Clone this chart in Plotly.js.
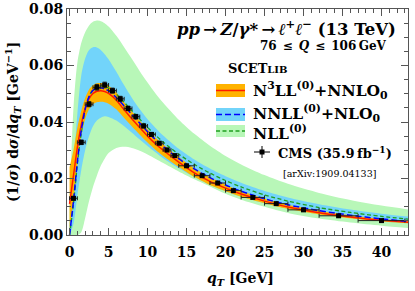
<!DOCTYPE html>
<html><head><meta charset="utf-8">
<script src="https://cdn.plot.ly/plotly-3.0.1.min.js"></script>
<style>html,body{margin:0;padding:0;background:#fff}#c{width:415px;height:291px}</style>
</head><body><div id="c"></div>
<script>
// ---- data ----
const binLo = [0,1,2,3,4,5,6,7,8,9,10,11,12,13,14,16,18,20,22,25,28,32,37];
const binHi = [1,2,3,4,5,6,7,8,9,10,11,12,13,14,16,18,20,22,25,28,32,37,43];
const cmsVal = [0.0130,0.0328,0.0463,0.0523,0.0531,0.0511,0.0482,0.0448,0.0419,0.0386,0.0356,0.0325,0.0301,0.0281,0.0245,0.0210,0.0184,0.0157,0.0133,0.0111,0.0089,0.0068,0.0051];
const cmsErr = [0.0006,0.0008,0.0009,0.0010,0.0010,0.0009,0.0009,0.0008,0.0008,0.0007,0.0007,0.0006,0.0006,0.0005,0.0005,0.0004,0.0004,0.0003,0.0003,0.0003,0.0002,0.0002,0.0002];

const qT = [0,0.5,1,1.5,2,2.5,3,3.5,4,4.5,5,6,7,8,9,10,11,12,14,16,18,20,22,25,28,32,36,40,43.5];
const n3llC  = [0.011,0.021,0.031,0.039,0.0448,0.0483,0.0501,0.0509,0.0511,0.0508,0.0501,0.0477,0.0443,0.0411,0.0380,0.0350,0.0323,0.0300,0.0258,0.0220,0.0190,0.0166,0.0145,0.0120,0.0099,0.0079,0.0064,0.0052,0.0045];
const n3llLo = [0.002,0.012,0.025,0.035,0.041,0.0445,0.0463,0.0470,0.0472,0.0470,0.0465,0.0445,0.0414,0.0384,0.0355,0.0327,0.0302,0.0280,0.0241,0.0206,0.0177,0.0155,0.0135,0.0112,0.0092,0.0073,0.0059,0.0048,0.0041];
const n3llHi = [0.024,0.030,0.038,0.044,0.0485,0.0515,0.0530,0.0537,0.0538,0.0535,0.0528,0.0504,0.0470,0.0437,0.0405,0.0374,0.0345,0.0321,0.0276,0.0236,0.0204,0.0178,0.0156,0.0129,0.0107,0.0086,0.0070,0.0057,0.0050];
const nnllC  = [0.0,0.012,0.026,0.037,0.0445,0.049,0.0512,0.052,0.0521,0.0517,0.051,0.0487,0.0457,0.0426,0.0396,0.0366,0.0338,0.0313,0.0270,0.0234,0.0203,0.0177,0.0155,0.0128,0.0107,0.0086,0.0070,0.0057,0.0048];
const nnllLo = [0.0,0.004,0.014,0.023,0.030,0.035,0.0385,0.0405,0.0415,0.042,0.0418,0.0405,0.0385,0.0362,0.0338,0.0315,0.0293,0.0272,0.0236,0.0205,0.0178,0.0155,0.0136,0.0112,0.0093,0.0074,0.0060,0.0049,0.0041];
const nnllHi = [0.004,0.024,0.043,0.0565,0.0625,0.0655,0.0665,0.0664,0.0655,0.064,0.0622,0.0578,0.053,0.0485,0.0445,0.041,0.038,0.0352,0.0305,0.0267,0.0235,0.0208,0.0185,0.0156,0.0133,0.0109,0.0090,0.0075,0.0065];
const nllC   = [0.0,0.011,0.025,0.036,0.0443,0.049,0.0515,0.0525,0.0528,0.0526,0.052,0.0498,0.0470,0.0440,0.0410,0.0381,0.0354,0.0329,0.0286,0.0250,0.0219,0.0193,0.0170,0.0142,0.0120,0.0097,0.0080,0.0066,0.0056];
const nllLo  = [0.0,0.0,0.0,0.001,0.006,0.012,0.017,0.021,0.0245,0.027,0.029,0.0308,0.0312,0.0308,0.0298,0.0285,0.027,0.0255,0.0225,0.0197,0.0172,0.0146,0.0125,0.0100,0.0078,0.0058,0.0044,0.0033,0.0025];
const nllHi  = [0.012,0.045,0.061,0.068,0.0718,0.0742,0.0755,0.0759,0.0757,0.075,0.0738,0.0705,0.0665,0.0623,0.058,0.054,0.0502,0.0468,0.0408,0.0358,0.0316,0.0280,0.025,0.0212,0.0181,0.0149,0.0124,0.0104,0.0090];

const xTickVals = [0,5,10,15,20,25,30,35,40];
const yTickVals = [0,0.02,0.04,0.06,0.08];

// ---- styles ----
const FONT = 'DejaVu Serif';
const cGreenBand = '#b8f7b8', cBlueBand = '#72d4fa', cOrangeBand = '#ffb300';
const cRed = '#ff1a00', cBlue = '#0000ff', cGreen = '#1fa01f';
const sm = 0.8;

const binMid = binLo.map((l,i)=>(l+binHi[i])/2);
const binHalf = binLo.map((l,i)=>(binHi[i]-l)/2);

function band(lo, hi, color){
  return [
    {x:qT, y:lo, mode:'lines', line:{width:0, shape:'spline', smoothing:sm}, hoverinfo:'skip', showlegend:false},
    {x:qT, y:hi, mode:'lines', line:{width:0, shape:'spline', smoothing:sm}, fill:'tonexty', fillcolor:color, hoverinfo:'skip', showlegend:false}
  ];
}
const traces = [
  ...band(nllLo, nllHi, cGreenBand),
  ...band(nnllLo, nnllHi, cBlueBand),
  ...band(n3llLo, n3llHi, cOrangeBand),
  {x:qT, y:nllC, mode:'lines', line:{color:cGreen, width:1.3, dash:'4px,2.5px', shape:'spline', smoothing:sm}, showlegend:false},
  {x:qT, y:n3llC, mode:'lines', line:{color:cRed, width:1.5, shape:'spline', smoothing:sm}, showlegend:false},
  {x:qT, y:nnllC, mode:'lines', line:{color:cBlue, width:1.5, dash:'6px,3px', shape:'spline', smoothing:sm}, showlegend:false},
  {x:binMid, y:cmsVal, mode:'markers', marker:{symbol:'square', size:5, color:'#000'},
   error_x:{type:'data', array:binHalf, color:'#222', thickness:1, width:2},
   error_y:{type:'data', array:cmsErr, color:'#222', thickness:1, width:2}, showlegend:false}
];

// pixel helpers for overlay legend
const L=67, R=408, T=9, B=235;
const px = v => (v-L)/(R-L);
const py = v => (B-v)/(B-T);

const shapes = [
  {type:'rect', xref:'paper', yref:'paper', x0:px(216), x1:px(245), y0:py(97), y1:py(84), fillcolor:cOrangeBand, line:{width:0}},
  {type:'line', xref:'paper', yref:'paper', x0:px(216), x1:px(245), y0:py(90.5), y1:py(90.5), line:{color:cRed, width:1.5}},
  {type:'rect', xref:'paper', yref:'paper', x0:px(216), x1:px(245), y0:py(121), y1:py(108), fillcolor:cBlueBand, line:{width:0}},
  {type:'line', xref:'paper', yref:'paper', x0:px(216), x1:px(245), y0:py(114.5), y1:py(114.5), line:{color:cBlue, width:1.5, dash:'6px,3px'}},
  {type:'rect', xref:'paper', yref:'paper', x0:px(216), x1:px(245), y0:py(137), y1:py(125), fillcolor:cGreenBand, line:{width:0}},
  {type:'line', xref:'paper', yref:'paper', x0:px(216), x1:px(245), y0:py(131), y1:py(131), line:{color:cGreen, width:1.3, dash:'4px,2.5px'}},
  {type:'line', xref:'paper', yref:'paper', x0:px(254), x1:px(270), y0:py(152), y1:py(152), line:{color:'#000', width:1}},
  {type:'line', xref:'paper', yref:'paper', x0:px(262), x1:px(262), y0:py(146), y1:py(158), line:{color:'#000', width:1}},
  {type:'rect', xref:'paper', yref:'paper', x0:px(259.5), x1:px(264.5), y0:py(154.5), y1:py(149.5), fillcolor:'#000', line:{width:0}}
];

const ann = (x,y,text,size,opts={}) => Object.assign({xref:'paper', yref:'paper', x:px(x), y:py(y), text, showarrow:false,
  xanchor:'left', yanchor:'middle', font:{family:FONT, size, color:'#000', weight:'bold'}}, opts);

const annotations = [
  ann(398, 28, '<i>pp</i>\u2009→\u2009<i>Z</i>/<i>γ</i>*\u2009→\u2009<i>ℓ</i><sup>+</sup><i>ℓ</i><sup>−</sup> (13 TeV)', 16.5, {xanchor:'right'}),
  ann(389, 46, '76\u2002≤\u2002<i>Q</i>\u2002≤\u2002106\u2009GeV', 12, {xanchor:'right'}),
  ann(226, 68, 'SCET<span style="font-size:10px">LIB</span>', 13),
  ann(251, 90, 'N<sup>3</sup>LL<sup>(0)</sup>+NNLO<sub>0</sub>', 15.5),
  ann(251, 114, 'NNLL<sup>(0)</sup>+NLO<sub>0</sub>', 15.5),
  ann(251, 132, 'NLL<sup>(0)</sup>', 15.5),
  ann(276, 152, 'CMS (35.9\u2009fb<sup>−1</sup>)', 13),
  ann(281, 173, '[arXiv:1909.04133]', 9.5, {font:{family:FONT, size:9.5, color:'#000', weight:'normal'}}),
  ann(13, 122, '(1/<i>σ</i>) d<i>σ</i>/d<i>q</i><sub><i>T</i></sub> [GeV<sup>−1</sup>]', 14, {xanchor:'center', textangle:-90}),
  ann(240, 279, '<i>q</i><sub><i>T</i></sub> [GeV]', 14, {xanchor:'center'})
];

const axisCommon = {showline:true, linecolor:'#555', linewidth:1, mirror:'ticks', ticks:'inside', tickcolor:'#555',
  showgrid:false, zeroline:false, tickfont:{family:FONT, size:14, color:'#000', weight:'bold'}};

const layout = {
  width:415, height:291, margin:{l:L, r:415-R, t:T, b:291-B},
  paper_bgcolor:'#fff', plot_bgcolor:'#fff', showlegend:false,
  xaxis:Object.assign({}, axisCommon, {range:[-0.33,43.4], tickmode:'array', tickvals:xTickVals, ticklen:7, ticklabelstandoff:4,
    minor:{dtick:1, ticks:'inside', ticklen:4, tickcolor:'#555', showgrid:false}}),
  yaxis:Object.assign({}, axisCommon, {range:[0,0.08], tickmode:'array', tickvals:yTickVals, tickformat:'.2f', ticklen:7,
    minor:{dtick:0.005, ticks:'inside', ticklen:4, tickcolor:'#555', showgrid:false}}),
  shapes, annotations
};
Plotly.newPlot('c', traces, layout, {staticPlot:true, displayModeBar:false});
</script></body></html>
